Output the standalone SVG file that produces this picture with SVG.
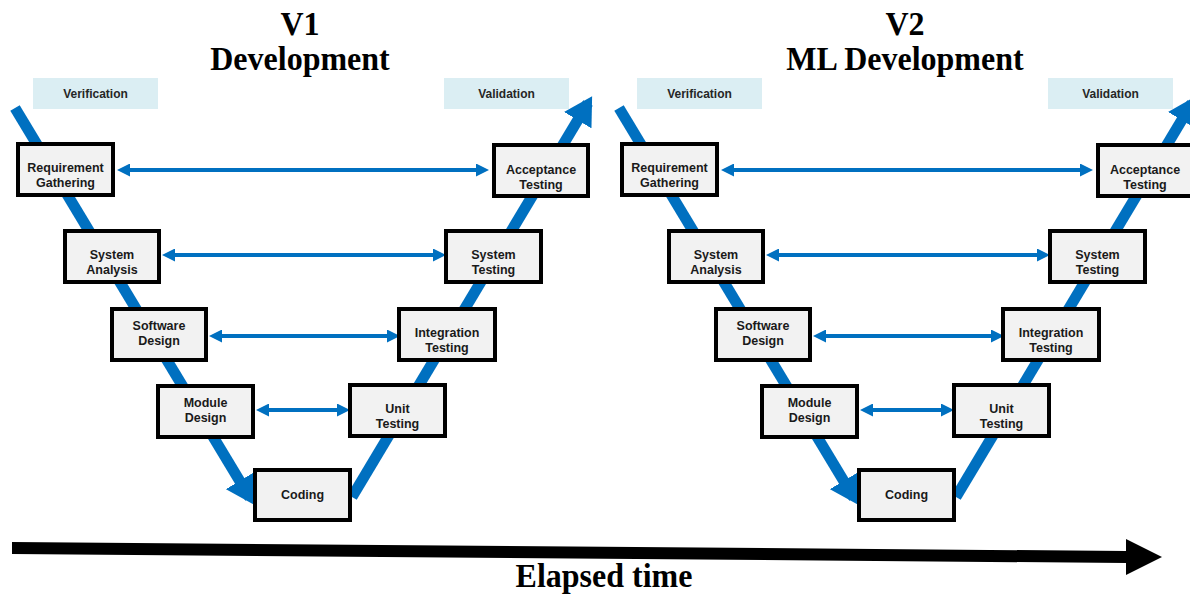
<svg xmlns="http://www.w3.org/2000/svg" width="1190" height="594" viewBox="0 0 1190 594">
  <style>
    .title { font-family: "Liberation Serif", "Times New Roman", serif; font-weight: bold; font-size: 32px; fill: #000; text-anchor: middle; }
    .box { fill: #f2f2f2; stroke: #000; stroke-width: 4; }
    .lbl { font-family: "Liberation Sans", Arial, sans-serif; font-weight: bold; font-size: 12.5px; fill: #1a1a1a; text-anchor: middle; }
    .tag { fill: #dbeef3; }
    .taglbl { font-family: "Liberation Sans", Arial, sans-serif; font-weight: bold; font-size: 12px; fill: #262626; text-anchor: middle; }
    .vline { stroke: #0070c0; stroke-width: 11; fill: none; marker-end: url(#bighead); }
    .link { stroke: #0070c0; stroke-width: 4; fill: none; marker-start: url(#smallhead); marker-end: url(#smallhead); }
  </style>
  <defs>
    <marker id="bighead" markerUnits="userSpaceOnUse" markerWidth="28" markerHeight="32" viewBox="0 0 28 32" refX="20" refY="16" orient="auto">
      <path d="M0,0 L28,16 L0,32 z" fill="#0070c0"/>
    </marker>
    <marker id="smallhead" markerUnits="userSpaceOnUse" markerWidth="13" markerHeight="13" viewBox="0 0 13 13" refX="9" refY="6.5" orient="auto-start-reverse">
      <path d="M0,0 L13,6.5 L0,13 z" fill="#0070c0"/>
    </marker>
  </defs>

  <rect width="1190" height="594" fill="#fff"/>

  <!-- left V: traditional development -->
  <g id="v1">
    <text class="title" x="300" y="35" transform="translate(0,35) scale(1,1.08) translate(0,-35)">V1</text>
    <text class="title" x="300" y="70" transform="translate(0,70) scale(1,1.08) translate(0,-70)">Development</text>

    <g id="v1-verification">
      <rect class="tag" x="33" y="78" width="125" height="31"/>
      <text class="taglbl" x="95.5" y="98">Verification</text>
    </g>
    <g id="v1-validation">
      <rect class="tag" x="444" y="78" width="125" height="31"/>
      <text class="taglbl" x="506.5" y="98">Validation</text>
    </g>

    <g id="v1-connectors">
      <line class="vline" x1="15" y1="108" x2="250" y2="498"/>
      <line class="vline" x1="352" y1="497" x2="588" y2="103"/>
      <line class="link" x1="121" y1="170" x2="485" y2="170"/>
      <line class="link" x1="166" y1="255" x2="442" y2="255"/>
      <line class="link" x1="213" y1="336" x2="396" y2="336"/>
      <line class="link" x1="260" y1="410" x2="346" y2="410"/>
    </g>

    <g id="v1-requirement-gathering">
      <rect class="box" x="18" y="144" width="95" height="51"/>
      <text class="lbl" x="65.5" y="172">Requirement</text>
      <text class="lbl" x="65.5" y="187">Gathering</text>
    </g>
    <g id="v1-system-analysis">
      <rect class="box" x="65" y="231" width="94" height="51"/>
      <text class="lbl" x="112" y="259">System</text>
      <text class="lbl" x="112" y="274">Analysis</text>
    </g>
    <g id="v1-software-design">
      <rect class="box" x="112" y="309" width="94" height="51"/>
      <text class="lbl" x="159" y="330">Software</text>
      <text class="lbl" x="159" y="345">Design</text>
    </g>
    <g id="v1-module-design">
      <rect class="box" x="158" y="386" width="95" height="51"/>
      <text class="lbl" x="205.5" y="407">Module</text>
      <text class="lbl" x="205.5" y="422">Design</text>
    </g>
    <g id="v1-coding">
      <rect class="box" x="255" y="470" width="95" height="50"/>
      <text class="lbl" x="302.5" y="499">Coding</text>
    </g>
    <g id="v1-unit-testing">
      <rect class="box" x="350" y="385" width="95" height="51"/>
      <text class="lbl" x="397.5" y="413">Unit</text>
      <text class="lbl" x="397.5" y="428">Testing</text>
    </g>
    <g id="v1-integration-testing">
      <rect class="box" x="399" y="309" width="96" height="51"/>
      <text class="lbl" x="447" y="337">Integration</text>
      <text class="lbl" x="447" y="352">Testing</text>
    </g>
    <g id="v1-system-testing">
      <rect class="box" x="446" y="231" width="95" height="51"/>
      <text class="lbl" x="493.5" y="259">System</text>
      <text class="lbl" x="493.5" y="274">Testing</text>
    </g>
    <g id="v1-acceptance-testing">
      <rect class="box" x="494" y="145" width="94" height="51"/>
      <text class="lbl" x="541" y="174">Acceptance</text>
      <text class="lbl" x="541" y="189">Testing</text>
    </g>
  </g>

  <!-- right V: ML development, same layout shifted -->
  <g id="v2" transform="translate(604,0)">
    <text class="title" x="301" y="35" transform="translate(0,35) scale(1,1.08) translate(0,-35)">V2</text>
    <text class="title" x="301" y="70" transform="translate(0,70) scale(1,1.08) translate(0,-70)">ML Development</text>

    <g id="v2-verification">
      <rect class="tag" x="33" y="78" width="125" height="31"/>
      <text class="taglbl" x="95.5" y="98">Verification</text>
    </g>
    <g id="v2-validation">
      <rect class="tag" x="444" y="78" width="125" height="31"/>
      <text class="taglbl" x="506.5" y="98">Validation</text>
    </g>

    <g id="v2-connectors">
      <line class="vline" x1="15" y1="108" x2="250" y2="498"/>
      <line class="vline" x1="352" y1="497" x2="588" y2="103"/>
      <line class="link" x1="121" y1="170" x2="485" y2="170"/>
      <line class="link" x1="166" y1="255" x2="442" y2="255"/>
      <line class="link" x1="213" y1="336" x2="396" y2="336"/>
      <line class="link" x1="260" y1="410" x2="346" y2="410"/>
    </g>

    <g id="v2-requirement-gathering">
      <rect class="box" x="18" y="144" width="95" height="51"/>
      <text class="lbl" x="65.5" y="172">Requirement</text>
      <text class="lbl" x="65.5" y="187">Gathering</text>
    </g>
    <g id="v2-system-analysis">
      <rect class="box" x="65" y="231" width="94" height="51"/>
      <text class="lbl" x="112" y="259">System</text>
      <text class="lbl" x="112" y="274">Analysis</text>
    </g>
    <g id="v2-software-design">
      <rect class="box" x="112" y="309" width="94" height="51"/>
      <text class="lbl" x="159" y="330">Software</text>
      <text class="lbl" x="159" y="345">Design</text>
    </g>
    <g id="v2-module-design">
      <rect class="box" x="158" y="386" width="95" height="51"/>
      <text class="lbl" x="205.5" y="407">Module</text>
      <text class="lbl" x="205.5" y="422">Design</text>
    </g>
    <g id="v2-coding">
      <rect class="box" x="255" y="470" width="95" height="50"/>
      <text class="lbl" x="302.5" y="499">Coding</text>
    </g>
    <g id="v2-unit-testing">
      <rect class="box" x="350" y="385" width="95" height="51"/>
      <text class="lbl" x="397.5" y="413">Unit</text>
      <text class="lbl" x="397.5" y="428">Testing</text>
    </g>
    <g id="v2-integration-testing">
      <rect class="box" x="399" y="309" width="96" height="51"/>
      <text class="lbl" x="447" y="337">Integration</text>
      <text class="lbl" x="447" y="352">Testing</text>
    </g>
    <g id="v2-system-testing">
      <rect class="box" x="446" y="231" width="95" height="51"/>
      <text class="lbl" x="493.5" y="259">System</text>
      <text class="lbl" x="493.5" y="274">Testing</text>
    </g>
    <g id="v2-acceptance-testing">
      <rect class="box" x="494" y="145" width="94" height="51"/>
      <text class="lbl" x="541" y="174">Acceptance</text>
      <text class="lbl" x="541" y="189">Testing</text>
    </g>
  </g>

  <!-- time axis -->
  <g id="timeline">
    <polygon points="12,542 1126,551 1126,539 1162,557 1126,575 1126,563 12,554" fill="#000"/>
    <text class="title" x="604" y="587" transform="translate(0,587) scale(1,1.08) translate(0,-587)">Elapsed time</text>
  </g>
</svg>
